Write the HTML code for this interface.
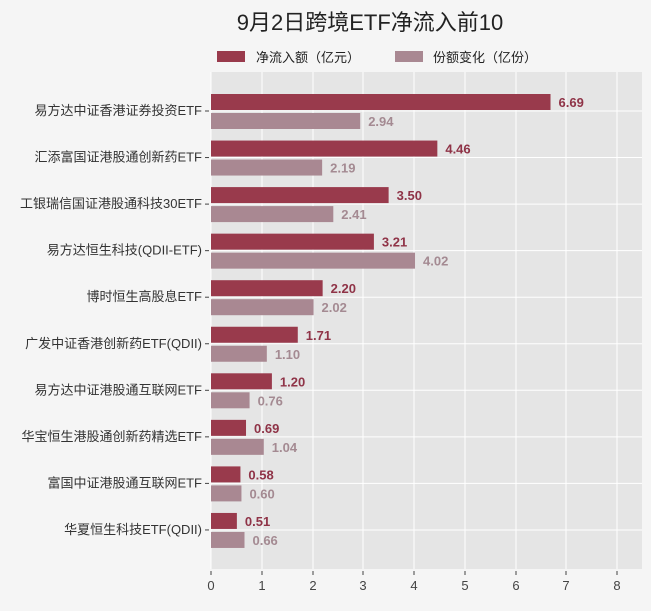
<!DOCTYPE html>
<html><head><meta charset="utf-8"><style>
body{margin:0;background:#f5f5f5;}
text{font-family:"Liberation Sans","Noto Sans CJK SC",sans-serif;}
</style></head><body>
<svg width="651" height="606" xmlns="http://www.w3.org/2000/svg">
<rect width="651" height="606" fill="#f5f5f5"/>
<text x="370" y="30" font-size="22" text-anchor="middle" fill="#222">9月2日跨境ETF净流入前10</text>
<rect x="217" y="51" width="28" height="11" fill="#993a4c"/>
<text x="256" y="62" font-size="13" fill="#222">净流入额（亿元）</text>
<rect x="395" y="51" width="28" height="11" fill="#a98892"/>
<text x="433" y="62" font-size="13" fill="#222">份额变化（亿份）</text>
<rect x="211" y="72" width="431" height="497" fill="#e5e5e5"/>
<g stroke="#fff" stroke-width="1">
<line x1="211" y1="72" x2="211" y2="569"/><line x1="262" y1="72" x2="262" y2="569"/><line x1="313" y1="72" x2="313" y2="569"/><line x1="363" y1="72" x2="363" y2="569"/><line x1="414" y1="72" x2="414" y2="569"/><line x1="465" y1="72" x2="465" y2="569"/><line x1="516" y1="72" x2="516" y2="569"/><line x1="566" y1="72" x2="566" y2="569"/><line x1="617" y1="72" x2="617" y2="569"/>
</g>
<g id="bars" font-size="13" font-weight="bold"></g>
<g font-size="13" fill="#444" text-anchor="middle">
<text x="211" y="590">0</text><text x="262" y="590">1</text><text x="313" y="590">2</text><text x="363" y="590">3</text><text x="414" y="590">4</text><text x="465" y="590">5</text><text x="516" y="590">6</text><text x="566" y="590">7</text><text x="617" y="590">8</text>
</g>
<g stroke="#444"><line x1="211" y1="571" x2="211" y2="575"/><line x1="262" y1="571" x2="262" y2="575"/><line x1="313" y1="571" x2="313" y2="575"/><line x1="363" y1="571" x2="363" y2="575"/><line x1="414" y1="571" x2="414" y2="575"/><line x1="465" y1="571" x2="465" y2="575"/><line x1="516" y1="571" x2="516" y2="575"/><line x1="566" y1="571" x2="566" y2="575"/><line x1="617" y1="571" x2="617" y2="575"/></g>
<g id="labels" font-size="13" fill="#333" text-anchor="end"></g>
</svg>
<script>
var d=[["易方达中证香港证券投资ETF",6.69,2.94],["汇添富国证港股通创新药ETF",4.46,2.19],["工银瑞信国证港股通科技30ETF",3.50,2.41],["易方达恒生科技(QDII-ETF)",3.21,4.02],["博时恒生高股息ETF",2.20,2.02],["广发中证香港创新药ETF(QDII)",1.71,1.10],["易方达中证港股通互联网ETF",1.20,0.76],["华宝恒生港股通创新药精选ETF",0.69,1.04],["富国中证港股通互联网ETF",0.58,0.60],["华夏恒生科技ETF(QDII)",0.51,0.66]];
var ns="http://www.w3.org/2000/svg",b=document.getElementById("bars"),l=document.getElementById("labels"),s=document.querySelector("svg");
function el(p,t,a,tx){var e=document.createElementNS(ns,t);for(var k in a)e.setAttribute(k,a[k]);if(tx)e.textContent=tx;p.appendChild(e);return e;}
d.forEach(function(r,i){var c=111+i*46.55;
el(s,"line",{x1:211,x2:642,y1:c,y2:c,stroke:"#fff"});
el(b,"rect",{x:211,y:c-17,width:r[1]*50.75,height:16,fill:"#993a4c"});
el(b,"rect",{x:211,y:c+2,width:r[2]*50.75,height:16,fill:"#a98892"});
el(b,"text",{x:211+r[1]*50.75+8,y:c-4,fill:"#8f3347"},r[1].toFixed(2));
el(b,"text",{x:211+r[2]*50.75+8,y:c+15,fill:"#a48a92"},r[2].toFixed(2));
el(l,"text",{x:202,y:c+4},r[0]);
el(s,"line",{x1:205,x2:209,y1:c,y2:c,stroke:"#444"});
});
b.parentNode.appendChild(b);
</script>
</body></html>
